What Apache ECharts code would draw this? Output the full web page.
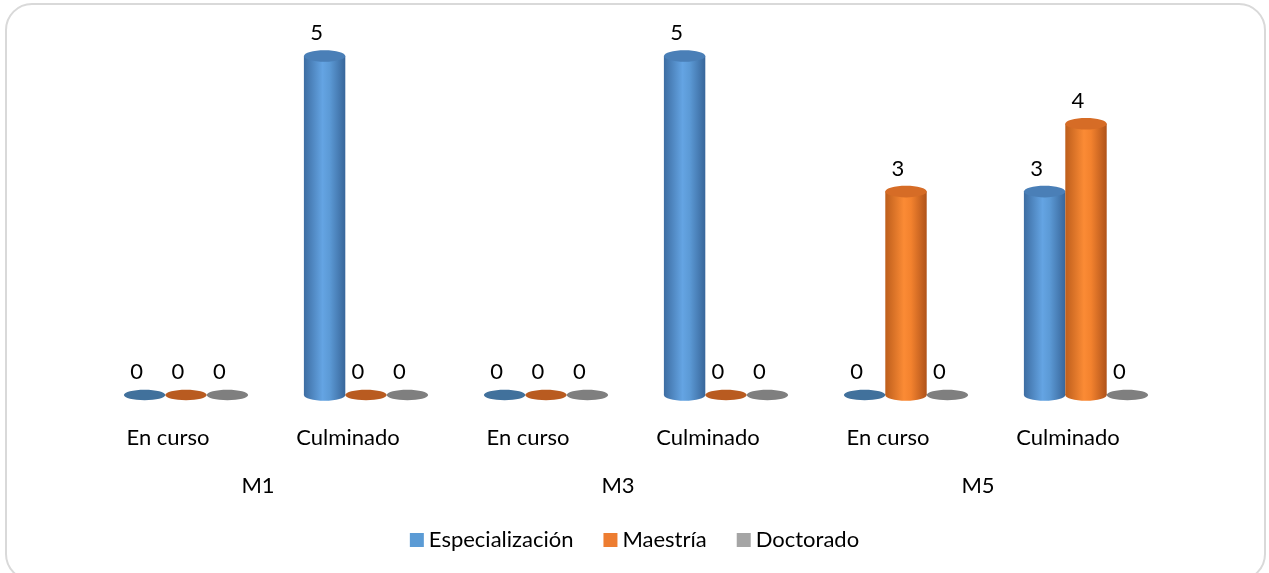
<!DOCTYPE html>
<html>
<head>
<meta charset="utf-8">
<script src="https://cdn.jsdelivr.net/npm/echarts@6/dist/echarts.min.js"></script>
<style>
html,body{margin:0;padding:0;background:#fff;}
#chart{width:1269px;height:573px;}
</style>
</head>
<body>
<div id="chart"></div>
<script>
// ---- data ----
const categories = ['En curso', 'Culminado', 'En curso', 'Culminado', 'En curso', 'Culminado'];
const groups = ['M1', 'M3', 'M5'];
const seriesNames = ['Especialización', 'Maestría', 'Doctorado'];
const especializacion = [0, 5, 0, 5, 0, 3];
const maestria = [0, 0, 0, 0, 3, 4];
const doctorado = [0, 0, 0, 0, 0, 0];

const FONT = 'Lato, "Open Sans", sans-serif';
const FS = 22;
const palettes = [
  {legend: '#5B9BD5', stops: ['#3d6da2', '#64a4e3', '#5c9ad6', '#38669a'], top: '#4a7fb7', flat: '#41719c'},
  {legend: '#ED7D31', stops: ['#bd5e1c', '#fb8b35', '#f3822e', '#b0531a'], top: '#d66c26', flat: '#b95b20'},
  {legend: '#A5A5A5', stops: ['#7a7a7a', '#b4b4b4', '#a8a8a8', '#767676'], top: '#8f8f8f', flat: '#7f7f7f'}
];

function grad(p) {
  return new echarts.graphic.LinearGradient(0, 0, 1, 0, [
    {offset: 0, color: p.stops[0]},
    {offset: 0.45, color: p.stops[1]},
    {offset: 0.62, color: p.stops[2]},
    {offset: 1, color: p.stops[3]}
  ]);
}

function renderCyl(params, api) {
  const si = params.seriesIndex;
  const cat = api.value(0), val = api.value(1);
  const base = api.coord([cat, 0]);
  const top = api.coord([cat, val]);
  const band = api.size([1, 0])[0];
  const w = band * 0.23;
  const cx = base[0] + band * 0.1 + (si - 1) * w;
  const x0 = cx - w / 2;
  const ry = w * 0.14;
  const p = palettes[si];
  const children = [];
  if (val > 0) {
    children.push({type: 'rect', shape: {x: x0, y: top[1], width: w, height: base[1] - top[1]}, style: {fill: grad(p)}});
    children.push({type: 'ellipse', shape: {cx: cx, cy: base[1], rx: w / 2, ry: ry}, style: {fill: grad(p)}});
    children.push({type: 'ellipse', shape: {cx: cx, cy: top[1], rx: w / 2, ry: ry}, style: {fill: p.top}});
  } else {
    children.push({type: 'ellipse', shape: {cx: cx, cy: base[1], rx: w / 2, ry: ry * 0.9}, style: {fill: p.flat}});
  }
  children.push({type: 'text', style: {text: String(val), x: cx - 8, y: top[1] - 23, align: 'center', verticalAlign: 'middle', font: FS + 'px ' + FONT, fill: '#000'}});
  return {type: 'group', children: children};
}

const allSeries = [especializacion, maestria, doctorado].map((arr, i) => ({
  name: seriesNames[i],
  type: 'custom',
  renderItem: renderCyl,
  itemStyle: {color: palettes[i].legend},
  encode: {x: 0, y: 1},
  data: arr.map((v, k) => [k, v])
}));

const chart = echarts.init(document.getElementById('chart'));
chart.setOption({
  animation: false,
  color: palettes.map(p => p.legend),
  grid: {left: 78, right: 111, top: 56, bottom: 178},
  xAxis: [
    {type: 'category', data: categories, position: 'bottom',
     axisLine: {show: false}, axisTick: {show: false},
     axisLabel: {margin: 32, fontSize: FS, color: '#000', fontFamily: FONT}},
    {type: 'category', data: groups, position: 'bottom', offset: 48,
     axisLine: {show: false}, axisTick: {show: false},
     axisLabel: {margin: 32, fontSize: FS, color: '#000', fontFamily: FONT}}
  ],
  yAxis: {type: 'value', min: 0, max: 5, show: false},
  legend: {
    bottom: 17, left: 'center', itemWidth: 14, itemHeight: 14, itemGap: 30, icon: 'rect',
    textStyle: {fontSize: FS, color: '#000', fontFamily: FONT},
    data: seriesNames
  },
  graphic: [{
    type: 'rect', silent: true, z: -10,
    shape: {x: 6, y: 4, width: 1259, height: 576, r: 26},
    style: {fill: 'none', stroke: '#d9d9d9', lineWidth: 2}
  }],
  series: allSeries
});
</script>
</body>
</html>
